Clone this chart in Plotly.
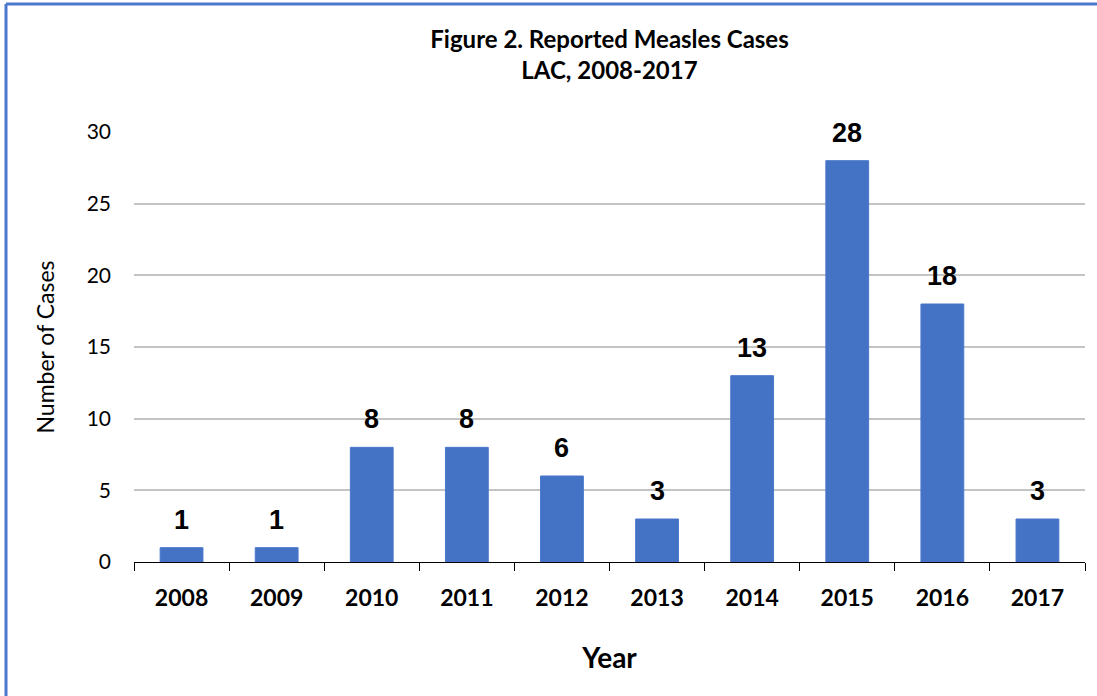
import plotly.graph_objects as go

years = ["2008", "2009", "2010", "2011", "2012", "2013", "2014", "2015", "2016", "2017"]
cases = [1, 1, 8, 8, 6, 3, 13, 28, 18, 3]
y_ticks = [0, 5, 10, 15, 20, 25, 30]

W, H = 1097, 696
L, R, T, B = 134, 12, 132, 134
PW, PH = W - L - R, H - T - B
FONT = "Lato, Open Sans"

fig = go.Figure()
fig.add_trace(go.Bar(
    x=years, y=cases, width=0.45,
    marker=dict(color="#4472C4", line=dict(color="#4A77CC", width=1)),
    hoverinfo="x+y",
))

for i, v in enumerate(cases):
    fig.add_annotation(x=i, y=v, xref="x", yref="y", text="<b>%d</b>" % v, showarrow=False,
                       yanchor="bottom", yshift=11,
                       font=dict(family="Liberation Sans, Arial", size=27, color="black"))

fig.update_layout(
    width=W, height=H,
    margin=dict(l=L, r=R, t=T, b=B),
    paper_bgcolor="white", plot_bgcolor="white",
    showlegend=False,
    title=dict(text="<b>Figure 2. Reported Measles Cases<br>LAC, 2008-2017</b>",
               x=(L + PW / 2) / W, xanchor="center", y=1 - 48 / H, yanchor="top",
               font=dict(family=FONT, size=24, color="black")),
    xaxis=dict(
        type="category", range=[-0.5, 9.5], showgrid=False, showline=True, linecolor="black", linewidth=1,
        ticks="outside", tickson="boundaries", ticklen=8, tickcolor="black", ticklabelstandoff=15,
        tickfont=dict(family=FONT, size=23, color="black", weight="bold"),
        title=dict(text="<b>Year</b>", font=dict(family=FONT, size=28, color="black"), standoff=38),
    ),
    yaxis=dict(
        range=[0, 30], tickvals=y_ticks, showgrid=True, gridcolor="#C4C4C4", gridwidth=2,
        zeroline=False, showline=False, ticks="", ticklabelstandoff=22,
        tickfont=dict(family=FONT, size=21, color="black"),
        title=dict(text="Number of Cases", font=dict(family=FONT, size=23, color="black"), standoff=25),
    ),
)

# blue frame of the chart (left and top edges visible)
fx0 = (6 - L) / PW
fy1 = 1 + (T - 4) / PH
fig.add_shape(type="line", xref="paper", yref="paper",
              x0=fx0, x1=fx0, y0=-(B + 40) / PH, y1=fy1,
              line=dict(color="#4A78CF", width=3), layer="below")
fig.add_shape(type="line", xref="paper", yref="paper",
              x0=fx0, x1=(W + 40 - L) / PW, y0=fy1, y1=fy1,
              line=dict(color="#4A78CF", width=3), layer="below")

fig.write_html("out.html", config={"displayModeBar": False},
               post_script="document.body.style.margin='0';")
